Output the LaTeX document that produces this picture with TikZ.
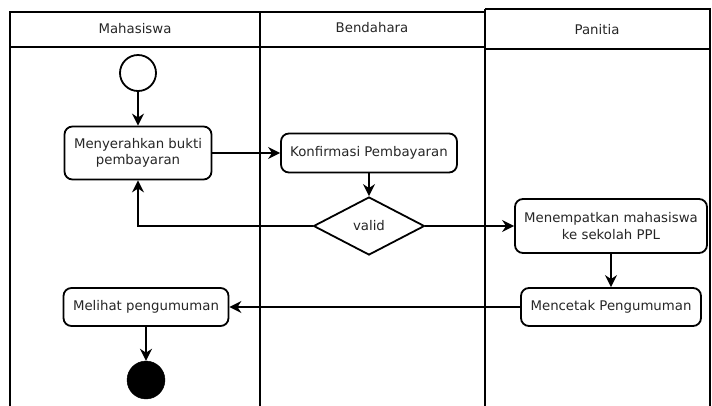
\documentclass[tikz,border=0pt]{standalone}
\usepackage{fontspec}
\setmainfont{DejaVu Sans}
\usetikzlibrary{arrows.meta,positioning,shapes.geometric}

\begin{document}
\begin{tikzpicture}[x=1pt, y=-1pt,
  lane/.style={line width=2pt},
  act/.style={draw, line width=1.8pt, rounded corners=8pt, fill=white, align=center, inner sep=2pt, font=\fontsize{13.3}{16.5}\selectfont, text=black!85},
  flow/.style={-{Stealth[length=12pt, width=12pt]}, line width=1.8pt}]
  \useasboundingbox (0,0) rectangle (712,405);

  % Swimlanes
  \draw[lane] (10,420) |- (260,12) -- (260,420);
  \draw[lane] (10,47) -- (260,47);
  \draw[lane] (260,12) -| (485,420);
  \draw[lane] (260,47) -- (485,47);
  \draw[lane] (485,9) -| (710,420);
  \draw[lane] (485,49) -- (710,49);
  \draw[lane] (485,9) -- (485,420);

  % Lane headers
  \node[font=\fontsize{13.3}{16.5}\selectfont, text=black!85] (hmhs) at (135,29) {Mahasiswa};
  \node[font=\fontsize{13.3}{16.5}\selectfont, text=black!85] (hbnd) at (372,28) {Bendahara};
  \node[font=\fontsize{13.3}{16.5}\selectfont, text=black!85] (hpnt) at (597,30) {Panitia};

  % Activities
  \node[draw, circle, line width=1.8pt, minimum size=36pt, inner sep=0pt] (start) at (138,73) {};
  \node[act, minimum width=147pt, minimum height=53pt] (serah) at (138,153) {Menyerahkan bukti\\pembayaran};
  \node[act, minimum width=176pt, minimum height=39pt] (konfirm) at (369,153) {Konfirmasi Pembayaran};
  \node[draw, diamond, aspect=1.9, line width=1.8pt, minimum width=111pt, minimum height=58pt, inner sep=0pt, fill=white, font=\fontsize{13.3}{16.5}\selectfont, text=black!85] (valid) at (369,226) {valid};
  \node[act, minimum width=192pt, minimum height=54pt] (tempat) at (611,226) {Menempatkan mahasiswa\\ke sekolah PPL};
  \node[act, minimum width=180pt, minimum height=38pt] (cetak) at (611,307) {Mencetak Pengumuman};
  \node[act, minimum width=165pt, minimum height=38pt] (lihat) at (146,307) {Melihat pengumuman};
  \node[draw, circle, fill=black, minimum size=38pt, inner sep=0pt] (akhir) at (146,380) {};

  % Flows
  \draw[flow] (start) -- (serah);
  \draw[flow] (serah.east) -- (konfirm.west);
  \draw[flow] (konfirm) -- (valid);
  \draw[flow] (valid.west) -| (serah.south);
  \draw[flow] (valid.east) -- (tempat.west);
  \draw[flow] (tempat) -- (cetak);
  \draw[flow] (cetak.west) -- (lihat.east);
  \draw[flow] (lihat) -- (akhir);
\end{tikzpicture}
\end{document}
